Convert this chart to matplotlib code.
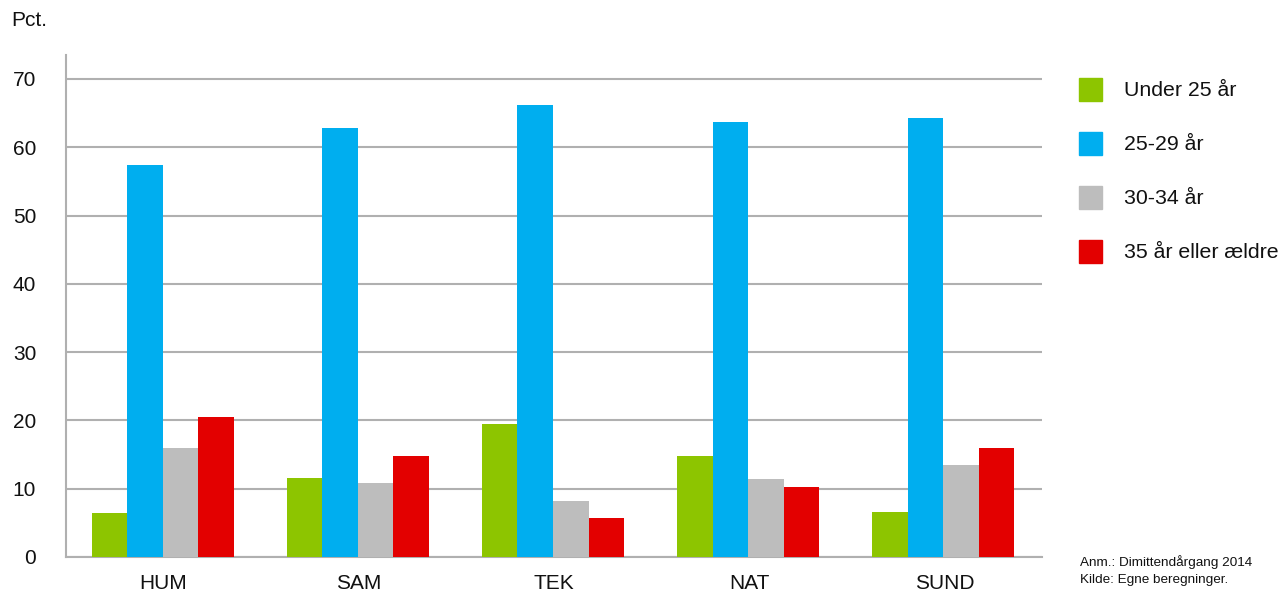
import matplotlib
matplotlib.use("Agg")
import matplotlib.pyplot as plt
from matplotlib.patches import Rectangle
import numpy as np

plt.rcParams['font.family'] = ['Liberation Sans', 'DejaVu Sans']

categories = ["HUM", "SAM", "TEK", "NAT", "SUND"]
series_names = ["Under 25 år", "25-29 år", "30-34 år", "35 år eller ældre"]
under_25 = [6.5, 11.6, 19.5, 14.8, 6.6]
age_25_29 = [57.4, 62.8, 66.2, 63.7, 64.3]
age_30_34 = [16.0, 10.8, 8.2, 11.4, 13.5]
age_35_plus = [20.5, 14.8, 5.7, 10.2, 16.0]
y_ticks = [0, 10, 20, 30, 40, 50, 60, 70]

colors = ["#8DC500", "#00AEEF", "#BDBDBD", "#E30000"]
series = [under_25, age_25_29, age_30_34, age_35_plus]

W, H = 1281, 592
fig = plt.figure(figsize=(W / 100, H / 100), dpi=100)
ax = fig.add_axes([66 / W, 35 / H, (1042 - 66) / W, (557 - 55) / H])

x = np.arange(len(categories))
bw = 0.182
for i, (vals, col) in enumerate(zip(series, colors)):
    ax.bar(x + (i - 1.5) * bw - 0.005, vals, width=bw, color=col, zorder=3, linewidth=0)

ax.set_xlim(-0.5, len(categories) - 0.5)
ax.set_ylim(0, 73.5)
ax.set_yticks(y_ticks)
ax.set_xticks(x)
ax.set_xticklabels(categories)
ax.tick_params(axis='both', length=0, labelsize=15, colors='#111111')
ax.tick_params(axis='y', pad=21.5)
ax.tick_params(axis='x', pad=12)
ax.grid(axis='y', color='#B0B0B0', linewidth=1.5, zorder=0)
for s in ['top', 'right']:
    ax.spines[s].set_visible(False)
ax.spines['left'].set_color('#B0B0B0')
ax.spines['left'].set_linewidth(1.5)
ax.spines['bottom'].set_color('#B0B0B0')
ax.spines['bottom'].set_linewidth(1.5)

fig.text(11 / W, 1 - 20 / H, "Pct.", fontsize=15, va='center', ha='left', color='#111111')

# legend drawn as squares with labels to the right of the plot
for i, (name, col) in enumerate(zip(series_names, colors)):
    cy = 89.5 + 54 * i
    fig.patches.append(Rectangle((1079 / W, 1 - (cy + 11.5) / H), 23 / W, 23 / H,
                                 transform=fig.transFigure, color=col, figure=fig))
    fig.text(1124 / W, 1 - (cy + 1.5) / H, name, fontsize=15.3, va='center', ha='left', color='#111111')

fig.text(1080 / W, 1 - 562 / H, "Anm.: Dimittendårgang 2014", fontsize=9.7, va='center', ha='left', color='#111111')
fig.text(1080 / W, 1 - 580 / H, "Kilde: Egne beregninger.", fontsize=9.7, va='center', ha='left', color='#111111')

fig.savefig("out.png", dpi=100)
